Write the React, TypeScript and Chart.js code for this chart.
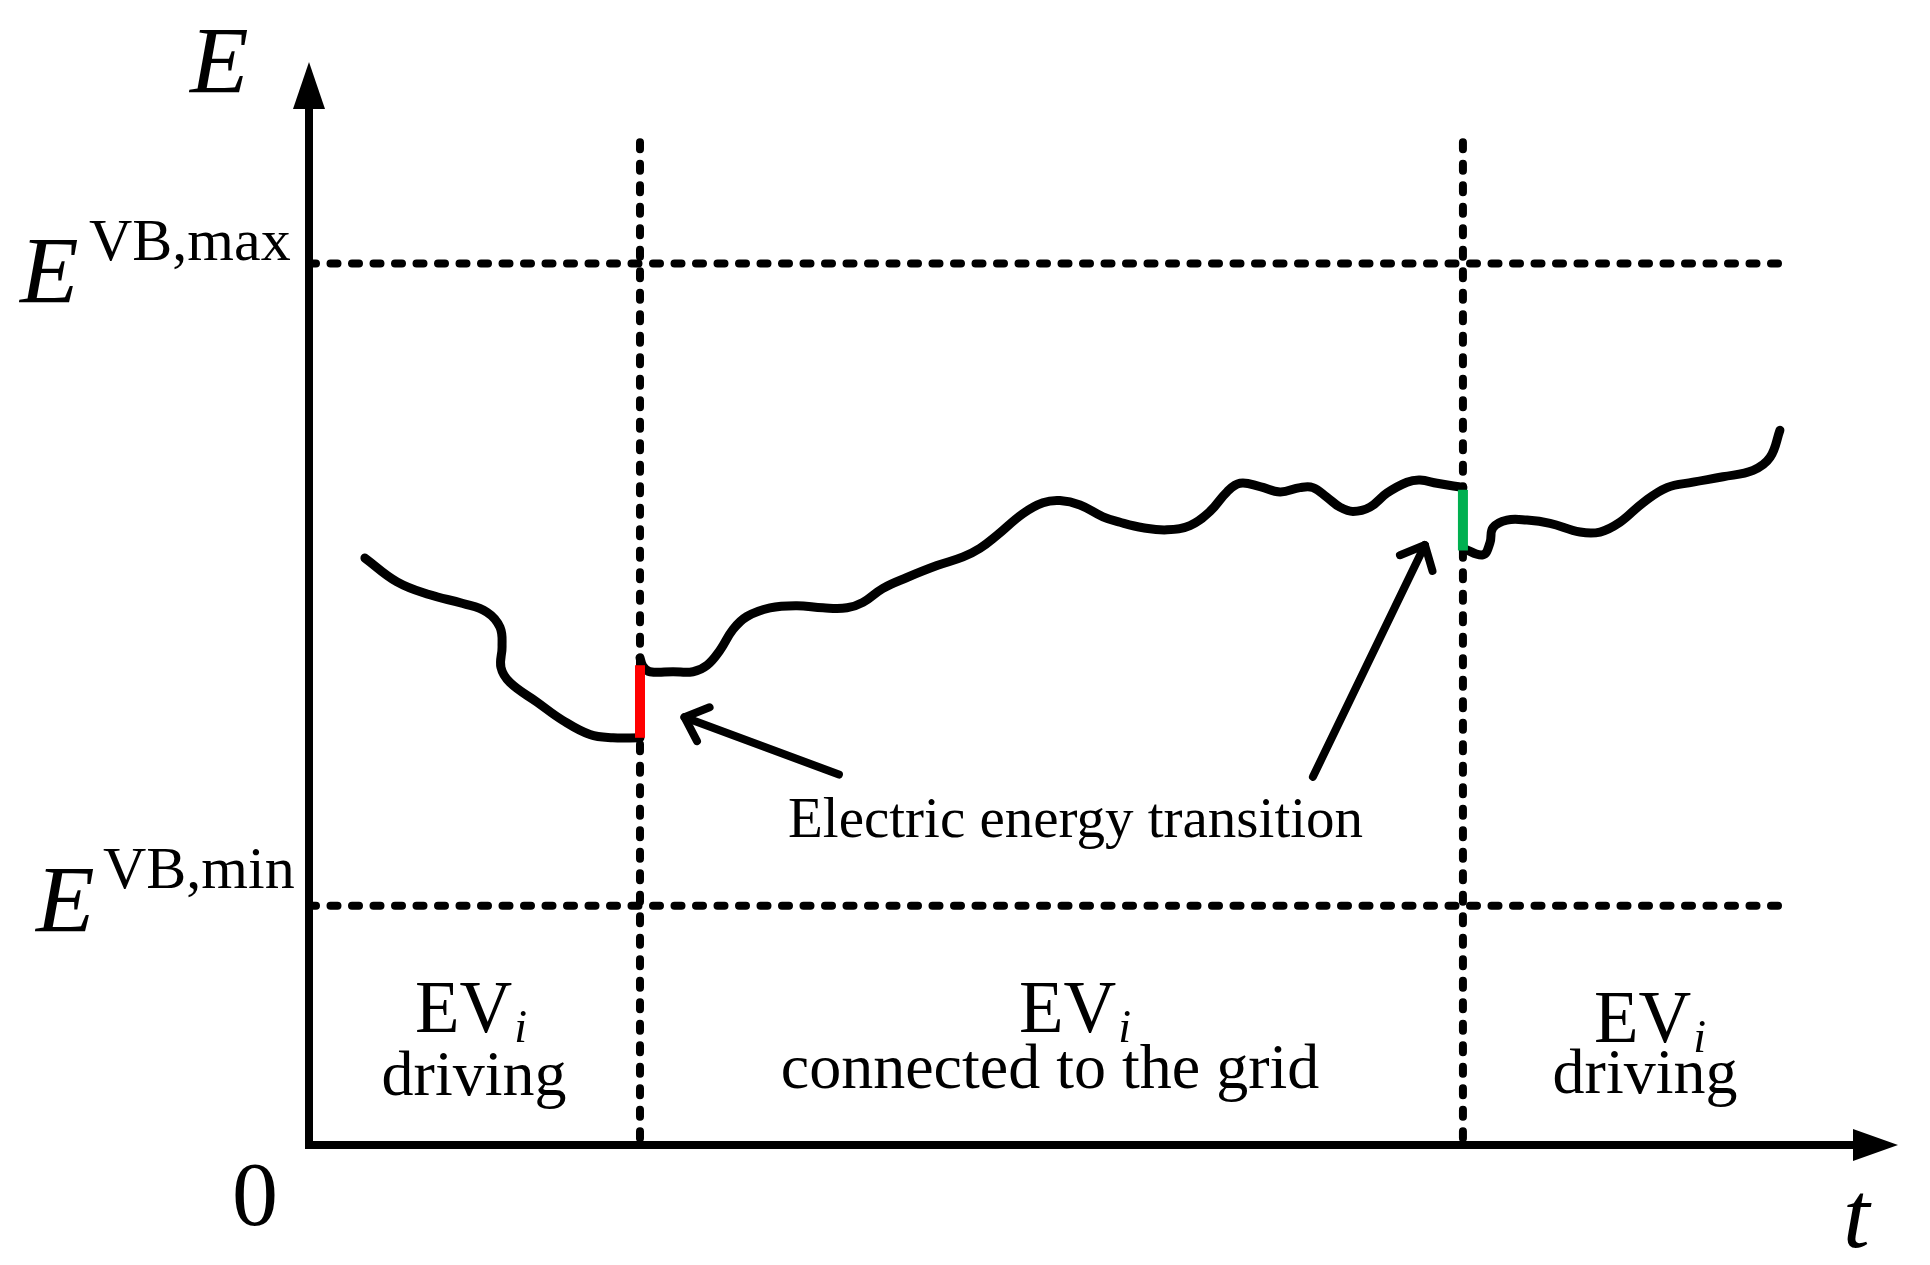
import React, { useEffect, useRef } from "react";
import { Chart, registerables } from "chart.js";

Chart.register(...registerables);

// ---- scale ranges (time / energy, arbitrary units) ----
const X_MAX = 100;
const Y_MAX = 100;

// ---- reference levels ----
const E_MAX = 81.4; // E^{VB,max}
const E_MIN = 22.1; // E^{VB,min}
const REF_LINE_END = 92.7;

// ---- phase boundaries ----
const T_CONNECT = 20.83;
const T_DISCONNECT = 72.62;
const PHASE_LINE_TOP = 92.6;

// ---- EV_i energy trajectory: driving (before connection) ----
const drive1T = [3.52, 5.54, 7.61, 9.69, 11.2, 12.02, 12.15, 12.08, 12.65, 14.35, 15.98, 17.68, 19.13, 20.83];
const drive1E = [54.2, 52.0, 50.8, 50.0, 49.2, 47.8, 46.0, 44.1, 42.7, 40.9, 39.2, 37.9, 37.6, 37.6];

// ---- connected to the grid ----
const gridT = [20.83, 21.02, 21.46, 22.91, 24.17, 25.05, 25.87, 26.68, 27.56, 29.01, 30.71, 32.35, 33.86, 34.86, 36.12, 37.63, 39.52, 41.16, 42.23, 43.3, 44.93, 46.19, 47.26, 48.52, 49.97, 51.04, 52.49, 54.0, 55.44, 56.7, 57.77, 58.59, 59.85, 61.11, 62.37, 63.18, 64.07, 64.88, 65.7, 66.77, 67.84, 69.1, 69.92, 70.99, 72.62];
const gridE = [45.0, 44.2, 43.7, 43.7, 43.7, 44.3, 45.7, 47.6, 48.8, 49.6, 49.8, 49.6, 49.6, 50.1, 51.4, 52.4, 53.5, 54.3, 55.1, 56.3, 58.3, 59.3, 59.5, 59.1, 58.0, 57.5, 57.0, 56.8, 57.2, 58.5, 60.3, 61.1, 60.8, 60.3, 60.7, 60.7, 59.8, 58.9, 58.5, 58.9, 60.2, 61.2, 61.4, 61.1, 60.7];

// ---- driving (after disconnection) ----
const drive2T = [72.62, 73.88, 74.32, 74.51, 75.39, 76.65, 78.1, 79.99, 81.25, 82.5, 83.95, 85.46, 87.1, 88.99, 90.88, 91.95, 92.57];
const drive2E = [55.1, 54.5, 55.6, 57.0, 57.7, 57.7, 57.4, 56.6, 56.6, 57.5, 59.3, 60.7, 61.2, 61.7, 62.3, 63.5, 66.0];

// ---- electric energy transitions (jumps) ----
const connectJumpE = [37.6, 44.3];
const disconnectJumpE = [60.5, 54.9];

// ---- annotation arrows (tail -> tip) ----
const arrow1T = [33.35, 23.63];
const arrow1E = [34.2, 39.5];
const arrow2T = [63.18, 70.23];
const arrow2E = [34.0, 55.4];

// ---- texts ----
const axisYLabel = "E";
const axisXLabel = "t";
const originLabel = "0";
const maxSup = "VB,max";
const minSup = "VB,min";
const annotationText = "Electric energy transition";
const phaseTitles = ["EV", "EV", "EV"];
const phaseSubs = ["driving", "connected to the grid", "driving"];

const zip = (xs: number[], ys: number[]) => xs.map((x, i) => ({ x, y: ys[i] }));
const SERIF = '"Liberation Serif", "Times New Roman", serif';

function txt(ctx: CanvasRenderingContext2D, s: string, x: number, y: number, size: number, italic = false, align: CanvasTextAlign = "left") {
  ctx.font = `${italic ? "italic " : ""}${size}px ${SERIF}`;
  ctx.textAlign = align;
  ctx.textBaseline = "alphabetic";
  ctx.fillStyle = "#000";
  ctx.fillText(s, x, y);
}

const axesPlugin = {
  id: "axesArrows",
  beforeDatasetsDraw(chart: any) {
    const { ctx, chartArea } = chart;
    const { left, top, right, bottom } = chartArea;
    ctx.save();
    ctx.strokeStyle = "#000";
    ctx.fillStyle = "#000";
    ctx.lineWidth = 8;
    ctx.lineCap = "butt";
    // y axis
    ctx.beginPath();
    ctx.moveTo(left, bottom + 4);
    ctx.lineTo(left, top + 46);
    ctx.stroke();
    ctx.beginPath();
    ctx.moveTo(left, top);
    ctx.lineTo(left - 16, top + 47);
    ctx.lineTo(left + 16, top + 47);
    ctx.closePath();
    ctx.fill();
    // x axis
    ctx.beginPath();
    ctx.moveTo(left - 4, bottom);
    ctx.lineTo(right - 44, bottom);
    ctx.stroke();
    ctx.beginPath();
    ctx.moveTo(right, bottom);
    ctx.lineTo(right - 45, bottom - 16);
    ctx.lineTo(right - 45, bottom + 16);
    ctx.closePath();
    ctx.fill();
    ctx.restore();
  },
  afterDatasetsDraw(chart: any) {
    const { ctx } = chart;
    chart.data.datasets.forEach((ds: any, i: number) => {
      if (!ds.isArrow) return;
      const pts = chart.getDatasetMeta(i).data;
      const tail = pts[0];
      const tip = pts[pts.length - 1];
      const ang = Math.atan2(tail.y - tip.y, tail.x - tip.x);
      const len = 27;
      const spread = (42 * Math.PI) / 180;
      ctx.save();
      ctx.strokeStyle = "#000";
      ctx.lineWidth = 8;
      ctx.lineCap = "round";
      ctx.lineJoin = "round";
      ctx.beginPath();
      ctx.moveTo(tip.x + len * Math.cos(ang + spread), tip.y + len * Math.sin(ang + spread));
      ctx.lineTo(tip.x, tip.y);
      ctx.lineTo(tip.x + len * Math.cos(ang - spread), tip.y + len * Math.sin(ang - spread));
      ctx.stroke();
      ctx.restore();
    });
  },
  afterDraw(chart: any) {
    const { ctx } = chart;
    ctx.save();
    // axis labels
    txt(ctx, axisYLabel, 190, 93, 96, true);
    txt(ctx, axisXLabel, 1843, 1247, 96, true);
    txt(ctx, originLabel, 255, 1225, 92, false, "center");
    // E^{VB,max}
    txt(ctx, "E", 20, 303, 96, true);
    txt(ctx, maxSup, 89, 260, 60);
    // E^{VB,min}
    txt(ctx, "E", 36, 932, 96, true);
    txt(ctx, minSup, 103, 888, 60);
    // annotation
    txt(ctx, annotationText, 788, 837, 57);
    // phase labels
    const evLeft = [415, 1019, 1594];
    const evBase = [1032, 1032, 1042];
    const subCenter = [474, 1050, 1645];
    const subBase = [1095, 1088, 1093];
    for (let k = 0; k < 3; k++) {
      ctx.font = `73px ${SERIF}`;
      const w = ctx.measureText(phaseTitles[k]).width;
      txt(ctx, phaseTitles[k], evLeft[k], evBase[k], 73);
      txt(ctx, "i", evLeft[k] + w + 2, evBase[k] + 10, 46, true);
      txt(ctx, phaseSubs[k], subCenter[k], subBase[k], 64, false, "center");
    }
    ctx.restore();
  },
};

export default function App() {
  const ref = useRef<HTMLCanvasElement | null>(null);
  useEffect(() => {
    if (!ref.current) return;
    const dashed = {
      borderColor: "#000",
      borderWidth: 8,
      borderDash: [7, 14.5],
      borderCapStyle: "round",
      pointRadius: 0,
      showLine: true,
      tension: 0,
    };
    const curve = {
      borderColor: "#000",
      borderWidth: 9,
      borderCapStyle: "round",
      borderJoinStyle: "round",
      pointRadius: 0,
      showLine: true,
      tension: 0.4,
    };
    const chart = new Chart(ref.current, {
      type: "scatter",
      data: {
        datasets: [
          { ...curve, label: "arrow 1", data: zip(arrow1T, arrow1E), tension: 0, borderWidth: 8, isArrow: true, order: 0 } as any,
          { ...curve, label: "arrow 2", data: zip(arrow2T, arrow2E), tension: 0, borderWidth: 8, isArrow: true, order: 0 } as any,
          { label: "connect jump", data: zip([T_CONNECT, T_CONNECT], connectJumpE), borderColor: "#FF0000", borderWidth: 10, pointRadius: 0, showLine: true, borderCapStyle: "butt", order: 1 } as any,
          { label: "disconnect jump", data: zip([T_DISCONNECT, T_DISCONNECT], disconnectJumpE), borderColor: "#00B050", borderWidth: 10, pointRadius: 0, showLine: true, borderCapStyle: "butt", order: 1 } as any,
          { ...curve, label: "driving 1", data: zip(drive1T, drive1E), order: 2 } as any,
          { ...curve, label: "grid", data: zip(gridT, gridE), order: 2 } as any,
          { ...curve, label: "driving 2", data: zip(drive2T, drive2E), order: 2 } as any,
          { ...dashed, label: "E max", data: zip([0, REF_LINE_END], [E_MAX, E_MAX]), order: 3 } as any,
          { ...dashed, label: "E min", data: zip([0, REF_LINE_END], [E_MIN, E_MIN]), order: 3 } as any,
          { ...dashed, label: "connect", data: zip([T_CONNECT, T_CONNECT], [PHASE_LINE_TOP, 0]), order: 3 } as any,
          { ...dashed, label: "disconnect", data: zip([T_DISCONNECT, T_DISCONNECT], [PHASE_LINE_TOP, 0]), order: 3 } as any,
        ],
      },
      options: {
        animation: false,
        responsive: false,
        devicePixelRatio: 1,
        layout: { padding: { left: 309, right: 32, top: 62, bottom: 120 } },
        scales: {
          x: { type: "linear", min: 0, max: X_MAX, display: false },
          y: { type: "linear", min: 0, max: Y_MAX, display: false },
        },
        plugins: { legend: { display: false }, tooltip: { enabled: false } },
        elements: { line: { capBezierPoints: false } },
      } as any,
      plugins: [axesPlugin],
    });
    return () => chart.destroy();
  }, []);
  return (
    <div style={{ position: "fixed", left: 0, top: 0, width: 1930, height: 1265, background: "#fff" }}>
      <canvas ref={ref} width={1930} height={1265} style={{ display: "block" }} />
    </div>
  );
}
